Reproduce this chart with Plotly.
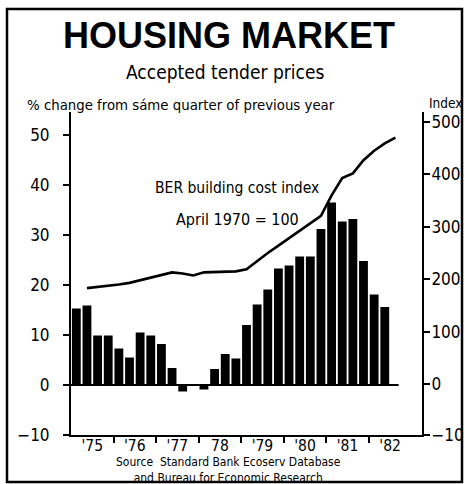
import plotly.graph_objects as go

# ---- data ----
quarters = list(range(30))  # 1975 Q1 .. 1982 Q2
tender_change = [15.3, 15.9, 9.9, 9.9, 7.3, 5.5, 10.5, 9.9, 8.2, 3.4,
                 -1.3, 0.0, -0.9, 3.2, 6.2, 5.3, 12.0, 16.1, 19.1, 23.3,
                 23.9, 25.7, 25.7, 31.2, 36.5, 32.7, 33.2, 24.8, 18.1, 15.6]
index_q = list(range(1, 31))
cost_index = [183, 185, 187, 190, 193, 198, 203, 209, 213, 211,
              207, 213, 214, 214, 215, 219, 235, 250, 264, 278,
              292, 306, 321, 360, 393, 402, 427, 445, 459, 470]
year_labels = ["'75", "'76", "'77", "78", "'79", "'80", "'81", "'82"]
year_centers = [1.5 + 4 * i for i in range(8)]
year_bounds = [3.5 + 4 * i for i in range(7)]
left_ticks = [-10, 0, 10, 20, 30, 40, 50]
right_ticks = [-97.3, 0, 100, 200, 300, 400, 500]
right_ticktext = ["\u221210", "0", "100", "200", "300", "400", "500"]

W, H = 465, 484
L, R, T, B = 71, 422, 112, 435
NARROW = "Liberation Sans Narrow, DejaVu Sans Condensed, Liberation Sans, Arial"

def px(x):
    return (x - L) / (R - L)

def py(y):
    return (B - y) / (B - T)

fig = go.Figure()
fig.add_trace(go.Bar(x=quarters, y=tender_change, marker_color="black",
                     marker_line_width=0, yaxis="y", showlegend=False))
fig.add_trace(go.Scatter(x=index_q, y=cost_index, mode="lines",
                         line=dict(color="black", width=2.6), yaxis="y2",
                         showlegend=False))

fig.update_layout(
    width=W, height=H,
    margin=dict(l=L, r=W - R, t=T, b=H - B, pad=0, autoexpand=False),
    paper_bgcolor="white", plot_bgcolor="white",
    bargap=0.17,
    font=dict(family=NARROW, color="black", size=16),
    xaxis=dict(range=[-0.5, 32.5], showgrid=False, zeroline=False,
               automargin=False,
               showline=True, linecolor="black", linewidth=2,
               tickmode="array", tickvals=year_centers, ticktext=year_labels,
               ticks="", ticklen=0, ticklabelstandoff=-5,
               tickfont=dict(size=15.5, family=NARROW),
               minor=dict(tickmode="array", tickvals=year_bounds,
                          ticks="outside", ticklen=6, tickwidth=1.5,
                          tickcolor="black", showgrid=False)),
    yaxis=dict(range=[-10, 54.6], showgrid=False, zeroline=False,
               automargin=False,
               showline=True, linecolor="black", linewidth=2,
               tickmode="array", tickvals=left_ticks,
               ticktext=[str(v).replace("-", "\u2212") for v in left_ticks],
               ticks="outside", ticklen=6, tickwidth=1.5, tickcolor="black",
               ticklabelstandoff=10,
               tickfont=dict(size=17, family=NARROW)),
    yaxis2=dict(range=[-97.3, 519], overlaying="y", side="right",
                showgrid=False, zeroline=False, automargin=False,
                showline=True, linecolor="black", linewidth=2,
                tickmode="array", tickvals=right_ticks, ticktext=right_ticktext,
                ticks="outside", ticklen=6, tickwidth=1.5, tickcolor="black",
                ticklabelstandoff=-2,
                tickfont=dict(size=17, family=NARROW)),
)

# zero reference line under bars
fig.add_shape(type="line", xref="x", yref="y", x0=-0.5, x1=30.3, y0=0, y1=0,
              line=dict(color="black", width=2))

# frame
fig.add_shape(type="rect", xref="paper", yref="paper",
              x0=px(7), x1=px(462), y0=py(482), y1=py(9),
              line=dict(color="black", width=2.5))

def text(x, y, s, size, bold=False, family=NARROW, xanchor="center"):
    fig.add_annotation(xref="paper", yref="paper", x=px(x), y=py(y), text=s,
                       showarrow=False, xanchor=xanchor, yanchor="middle",
                       font=dict(size=size, family=family, color="black"))

text(229, 36, "<b>HOUSING MARKET</b>", 36,
     family="Liberation Sans, Arial, Helvetica, sans-serif")
text(225, 72, "Accepted tender prices", 19)
text(25, 105, "% change from sáme quarter of previous year", 14.8, xanchor="left")
text(427, 103, "Index", 13.5, xanchor="left")
text(237, 188, "BER building cost index", 15.5)
text(237, 219, "April 1970 = 100", 16)
text(228, 470, "Source  Standard Bank Ecoserv Database<br>and Bureau for Economic Research", 12)

fig.write_html("out.html")
